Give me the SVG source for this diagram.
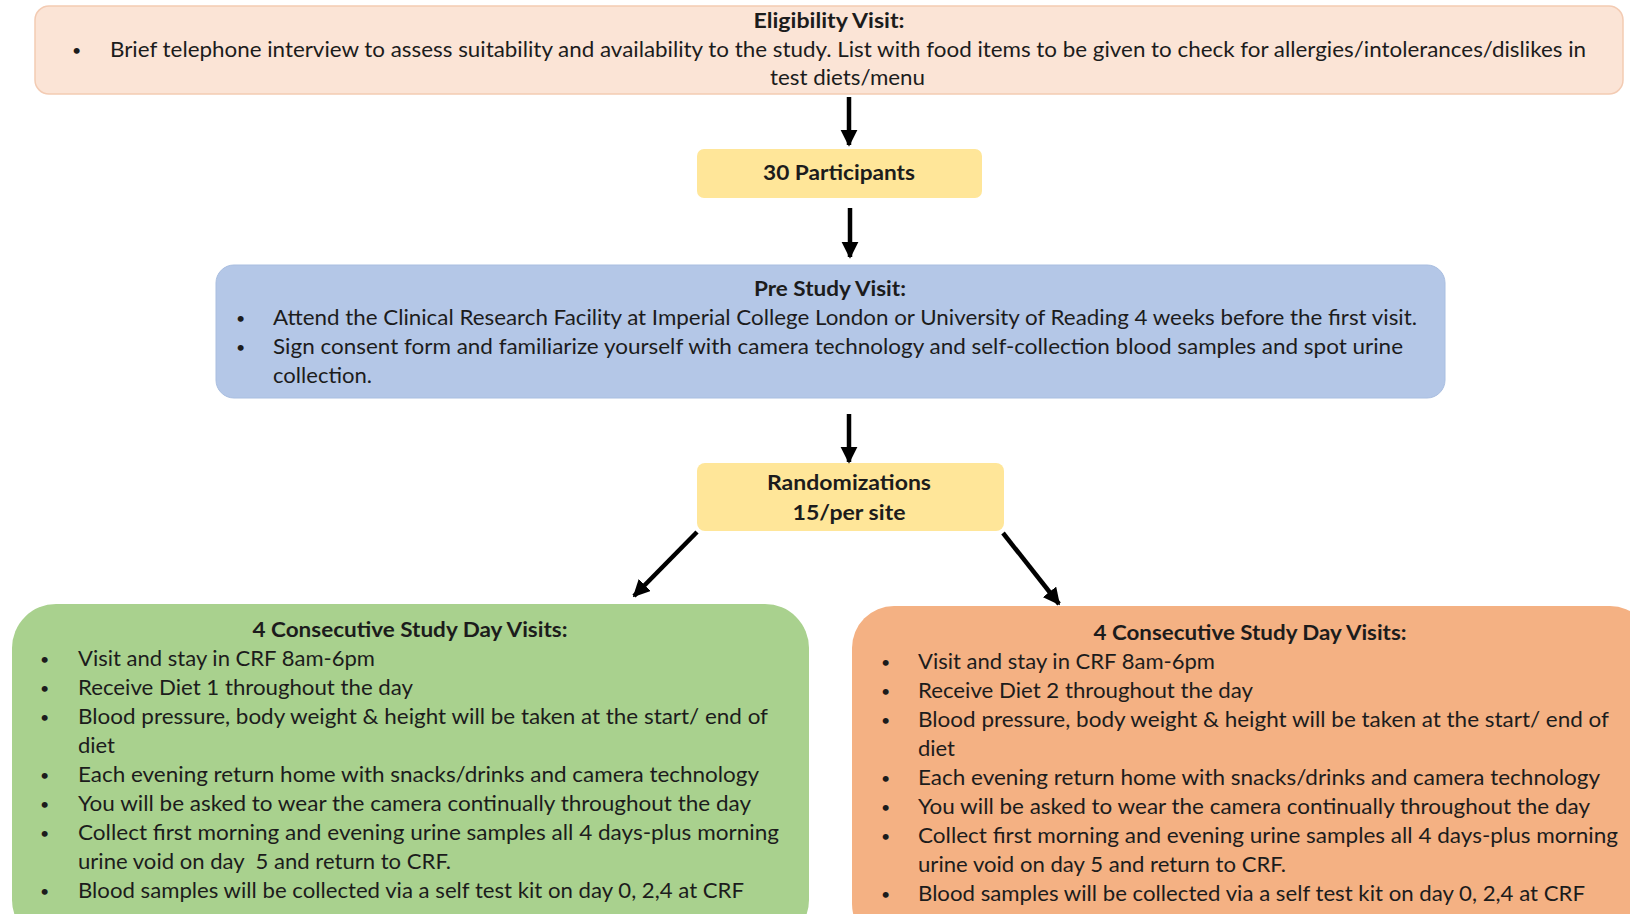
<svg xmlns="http://www.w3.org/2000/svg" width="1630" height="914" viewBox="0 0 1630 914">
<style>
text{font-family:Lato,"Open Sans","Liberation Sans",sans-serif;fill:#1c1c1c;font-size:21px}
.b{font-weight:bold}
.c{text-anchor:middle}
.t{font-size:20px}
.u{font-size:16px}
.conn{stroke:#000;stroke-width:4.5;fill:none}
</style>
<defs>
<marker id="ah" viewBox="0 0 10 10" refX="9" refY="5" markerWidth="3.8" markerHeight="3.8" orient="auto" markerUnits="strokeWidth">
<path d="M0,0 L10,5 L0,10 z" fill="#000"/>
</marker>
</defs>
<rect width="1630" height="914" fill="#fff"/>

<g id="eligibility">
<rect x="35" y="6" width="1588" height="88" rx="14" fill="#FBE4D6" stroke="#F3CBB3" stroke-width="1.5"/>
<text class="b c t" x="829" y="28" textLength="151" lengthAdjust="spacingAndGlyphs">Eligibility Visit:</text>
<text class="u" x="72" y="56">•</text>
<text x="110" y="57" textLength="1476" lengthAdjust="spacingAndGlyphs">Brief telephone interview to assess suitability and availability to the study. List with food items to be given to check for allergies/intolerances/dislikes in</text>
<text x="770" y="85" textLength="155" lengthAdjust="spacingAndGlyphs">test diets/menu</text>
</g>

<g id="participants">
<rect x="697" y="149" width="285" height="49" rx="7" fill="#FFE699"/>
<text class="b c t" x="839" y="180" textLength="152" lengthAdjust="spacingAndGlyphs">30 Participants</text>
</g>

<g id="prestudy">
<rect x="216" y="265" width="1229" height="133" rx="18" fill="#B4C7E7" stroke="#A9BEE0" stroke-width="1"/>
<text class="b c t" x="830" y="296" textLength="152" lengthAdjust="spacingAndGlyphs">Pre Study Visit:</text>
<text class="u" x="236" y="324">•</text>
<text x="273" y="325" textLength="1144" lengthAdjust="spacingAndGlyphs">Attend the Clinical Research Facility at Imperial College London or University of Reading 4 weeks before the first visit.</text>
<text class="u" x="236" y="353">•</text>
<text x="273" y="354" textLength="1130" lengthAdjust="spacingAndGlyphs">Sign consent form and familiarize yourself with camera technology and self-collection blood samples and spot urine</text>
<text x="273" y="383" textLength="99" lengthAdjust="spacingAndGlyphs">collection.</text>
</g>

<g id="randomization">
<rect x="697" y="463" width="307" height="68" rx="8" fill="#FFE699"/>
<text class="b c t" x="849" y="490" textLength="164" lengthAdjust="spacingAndGlyphs">Randomizations</text>
<text class="b c t" x="849" y="520" textLength="113" lengthAdjust="spacingAndGlyphs">15/per site</text>
</g>

<g id="diet1">
<rect x="12" y="604" width="797" height="340" rx="44" fill="#A9D18E"/>
<text class="b c t" x="410" y="637" textLength="315" lengthAdjust="spacingAndGlyphs">4 Consecutive Study Day Visits:</text>
<text class="u" x="40" y="665">•</text>
<text x="78" y="666" textLength="297" lengthAdjust="spacingAndGlyphs">Visit and stay in CRF 8am-6pm</text>
<text class="u" x="40" y="694">•</text>
<text x="78" y="695" textLength="335" lengthAdjust="spacingAndGlyphs">Receive Diet 1 throughout the day</text>
<text class="u" x="40" y="723">•</text>
<text x="78" y="724" textLength="690" lengthAdjust="spacingAndGlyphs">Blood pressure, body weight &amp; height will be taken at the start/ end of</text>
<text x="78" y="753" textLength="37" lengthAdjust="spacingAndGlyphs">diet</text>
<text class="u" x="40" y="781">•</text>
<text x="78" y="782" textLength="681" lengthAdjust="spacingAndGlyphs">Each evening return home with snacks/drinks and camera technology</text>
<text class="u" x="40" y="810">•</text>
<text x="78" y="811" textLength="673" lengthAdjust="spacingAndGlyphs">You will be asked to wear the camera continually throughout the day</text>
<text class="u" x="40" y="839">•</text>
<text x="78" y="840" textLength="701" lengthAdjust="spacingAndGlyphs">Collect first morning and evening urine samples all 4 days-plus morning</text>
<text x="78" y="869" textLength="373" lengthAdjust="spacingAndGlyphs">urine void on day &#160;5 and return to CRF.</text>
<text class="u" x="40" y="897">•</text>
<text x="78" y="898" textLength="666" lengthAdjust="spacingAndGlyphs">Blood samples will be collected via a self test kit on day 0, 2,4 at CRF</text>
</g>

<g id="diet2">
<rect x="852" y="606" width="800" height="340" rx="42" fill="#F4B183"/>
<text class="b c t" x="1250" y="640" textLength="313" lengthAdjust="spacingAndGlyphs">4 Consecutive Study Day Visits:</text>
<text class="u" x="881" y="668">•</text>
<text x="918" y="669" textLength="297" lengthAdjust="spacingAndGlyphs">Visit and stay in CRF 8am-6pm</text>
<text class="u" x="881" y="697">•</text>
<text x="918" y="698" textLength="335" lengthAdjust="spacingAndGlyphs">Receive Diet 2 throughout the day</text>
<text class="u" x="881" y="726">•</text>
<text x="918" y="727" textLength="691" lengthAdjust="spacingAndGlyphs">Blood pressure, body weight &amp; height will be taken at the start/ end of</text>
<text x="918" y="756" textLength="37" lengthAdjust="spacingAndGlyphs">diet</text>
<text class="u" x="881" y="784">•</text>
<text x="918" y="785" textLength="682" lengthAdjust="spacingAndGlyphs">Each evening return home with snacks/drinks and camera technology</text>
<text class="u" x="881" y="813">•</text>
<text x="918" y="814" textLength="672" lengthAdjust="spacingAndGlyphs">You will be asked to wear the camera continually throughout the day</text>
<text class="u" x="881" y="842">•</text>
<text x="918" y="843" textLength="700" lengthAdjust="spacingAndGlyphs">Collect first morning and evening urine samples all 4 days-plus morning</text>
<text x="918" y="872" textLength="368" lengthAdjust="spacingAndGlyphs">urine void on day 5 and return to CRF.</text>
<text class="u" x="881" y="900">•</text>
<text x="918" y="901" textLength="667" lengthAdjust="spacingAndGlyphs">Blood samples will be collected via a self test kit on day 0, 2,4 at CRF</text>
</g>

<g id="connectors">
<line class="conn" x1="849" y1="97" x2="849" y2="145" marker-end="url(#ah)"/>
<line class="conn" x1="850" y1="208" x2="850" y2="257" marker-end="url(#ah)"/>
<line class="conn" x1="849" y1="414" x2="849" y2="462" marker-end="url(#ah)"/>
<line class="conn" x1="697" y1="532" x2="634" y2="596" marker-end="url(#ah)"/>
<line class="conn" x1="1003" y1="533" x2="1059" y2="604" marker-end="url(#ah)"/>
</g>
</svg>
